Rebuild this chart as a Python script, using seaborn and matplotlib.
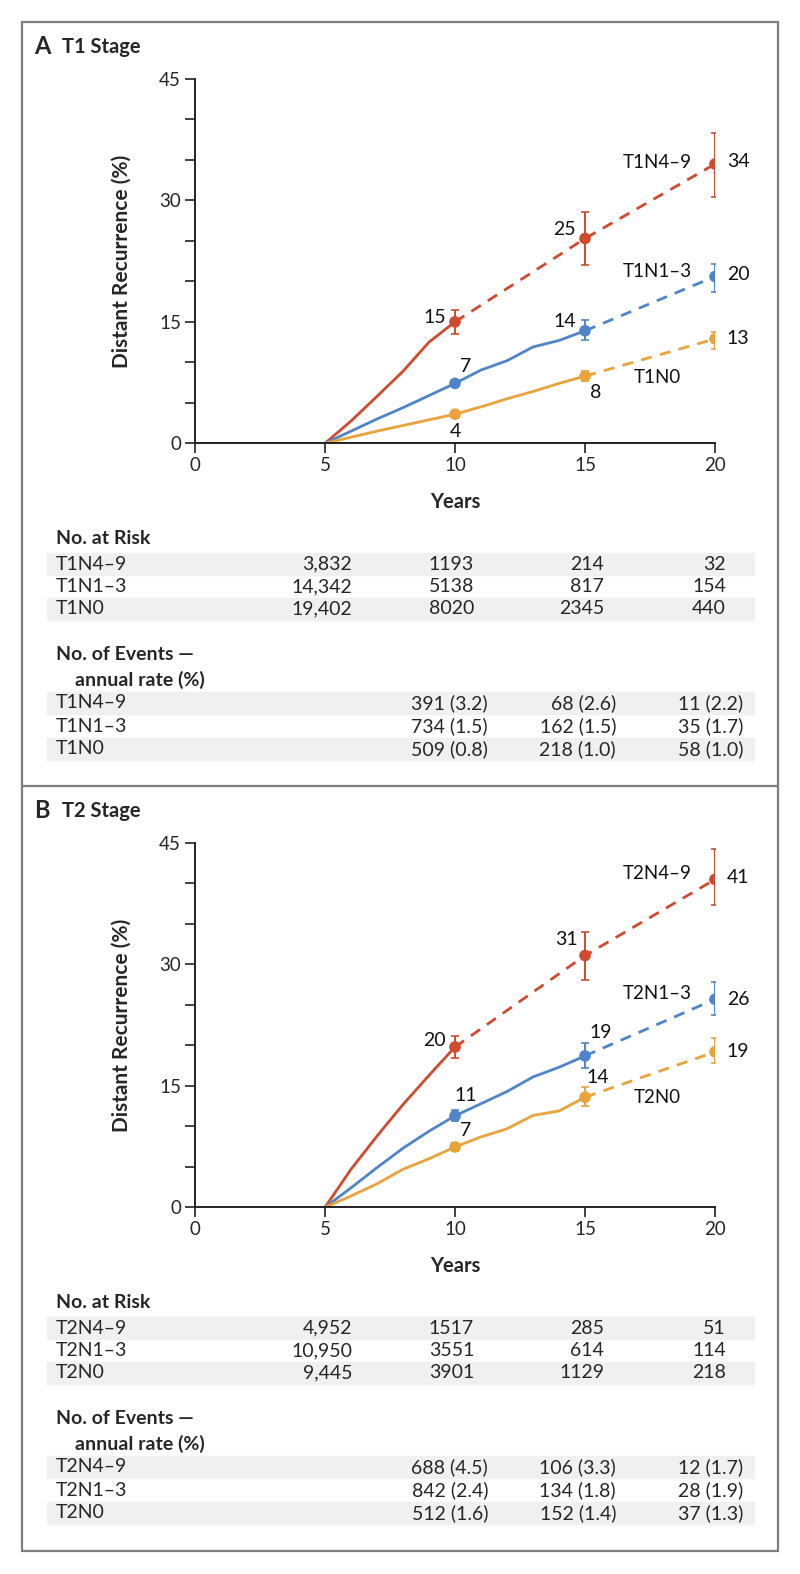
import pandas as pd
import seaborn as sns
import matplotlib.pyplot as plt
from matplotlib.patches import Rectangle
from matplotlib.lines import Line2D

# ---- data ----
obs_years_short = [5, 6, 7, 8, 9, 10]
obs_years_long = [5, 6, 7, 8, 9, 10, 11, 12, 13, 14, 15]
est_years = [10, 15, 20]

# panel A, T1 stage
a_n49_obs = [0, 2.75, 5.8, 8.9, 12.5, 15.0]
a_n49_proj = [15.0, 25.3, 34.5]
a_n13_obs = [0, 1.5, 3.0, 4.4, 5.9, 7.4, 9.05, 10.2, 11.9, 12.7, 13.9]
a_n13_proj = [13.9, 20.6]
a_n0_obs = [0, 0.75, 1.5, 2.2, 2.9, 3.6, 4.5, 5.5, 6.4, 7.4, 8.3]
a_n0_proj = [8.3, 12.9]
a_n49_est = [15.0, 25.3, 34.5]
a_n49_lo = [13.5, 22.0, 30.4]
a_n49_hi = [16.5, 28.6, 38.3]
a_n13_est = [7.4, 13.9, 20.6]
a_n13_lo = [7.1, 12.7, 18.7]
a_n13_hi = [7.7, 15.2, 22.1]
a_n0_est = [3.6, 8.3, 12.9]
a_n0_lo = [3.4, 7.7, 11.7]
a_n0_hi = [3.8, 8.9, 13.8]

# panel B, T2 stage
b_n49_obs = [0, 4.7, 8.8, 12.7, 16.3, 19.8]
b_n49_proj = [19.8, 31.1, 40.5]
b_n13_obs = [0, 2.4, 4.9, 7.3, 9.4, 11.3, 12.8, 14.3, 16.1, 17.3, 18.7]
b_n13_proj = [18.7, 25.7]
b_n0_obs = [0, 1.4, 2.9, 4.7, 6.0, 7.45, 8.7, 9.7, 11.35, 11.9, 13.6]
b_n0_proj = [13.6, 19.2]
b_n49_est = [19.8, 31.1, 40.5]
b_n49_lo = [18.4, 28.1, 37.3]
b_n49_hi = [21.2, 34.0, 44.2]
b_n13_est = [11.3, 18.7, 25.7]
b_n13_lo = [10.6, 17.2, 23.7]
b_n13_hi = [12.0, 20.3, 27.8]
b_n0_est = [7.45, 13.6, 19.2]
b_n0_lo = [7.0, 12.5, 17.8]
b_n0_hi = [7.9, 14.8, 20.9]

a_groups = ["T1N4–9", "T1N1–3", "T1N0"]
b_groups = ["T2N4–9", "T2N1–3", "T2N0"]
a_labels = [["15", "25", "34"], ["7", "14", "20"], ["4", "8", "13"]]
b_labels = [["20", "31", "41"], ["11", "19", "26"], ["7", "14", "19"]]

a_risk = [["3,832", "1193", "214", "32"],
          ["14,342", "5138", "817", "154"],
          ["19,402", "8020", "2345", "440"]]
a_events = [["391 (3.2)", "68 (2.6)", "11 (2.2)"],
            ["734 (1.5)", "162 (1.5)", "35 (1.7)"],
            ["509 (0.8)", "218 (1.0)", "58 (1.0)"]]
b_risk = [["4,952", "1517", "285", "51"],
          ["10,950", "3551", "614", "114"],
          ["9,445", "3901", "1129", "218"]]
b_events = [["688 (4.5)", "106 (3.3)", "12 (1.7)"],
            ["842 (2.4)", "134 (1.8)", "28 (1.9)"],
            ["512 (1.6)", "152 (1.4)", "37 (1.3)"]]

colors = ["#CF4A2E", "#4F85C8", "#EAA23A"]

sns.set_style("white")
plt.rcParams['font.family'] = ['Lato', 'DejaVu Sans']

W, H = 800, 1574
fig = plt.figure(figsize=(W / 100, H / 100), dpi=100)


def fx(px):
    return px / W


def fy(py):
    return 1 - py / H


def build_frame(groups, n49_obs, n49_proj, n13_obs, n13_proj, n0_obs, n0_proj):
    rows = []
    for x, y in zip(obs_years_short, n49_obs):
        rows.append((groups[0], "obs", x, y))
    for x, y in zip(est_years, n49_proj):
        rows.append((groups[0], "proj", x, y))
    for g, obs, proj in [(groups[1], n13_obs, n13_proj), (groups[2], n0_obs, n0_proj)]:
        for x, y in zip(obs_years_long, obs):
            rows.append((g, "obs", x, y))
        for x, y in zip(est_years[1:], proj):
            rows.append((g, "proj", x, y))
    return pd.DataFrame(rows, columns=["group", "segment", "year", "pct"])


def draw_panel(off, letter, title, groups, df, est, lo, hi, labels,
               label_pos, name_pos, risk, events):
    ax = fig.add_axes([fx(195), fy(443.3 + off), fx(520), 364.3 / H])
    sns.lineplot(data=df, x="year", y="pct", hue="group", style="segment",
                 palette=dict(zip(groups, colors)),
                 dashes={"obs": "", "proj": (4, 3)},
                 estimator=None, sort=True, lw=2, legend=False, ax=ax)
    for i in range(3):
        e = pd.DataFrame({"year": est_years, "pct": est[i]})
        ax.errorbar(est_years, est[i],
                    yerr=[[a - b for a, b in zip(est[i], lo[i])],
                          [b - a for a, b in zip(est[i], hi[i])]],
                    fmt="none", ecolor=colors[i], elinewidth=1.4,
                    capsize=3, capthick=1.2, zorder=4)
        sns.scatterplot(data=e, x="year", y="pct", color=colors[i], s=70,
                        edgecolor="none", zorder=5, ax=ax)
        for j, t in enumerate(labels[i]):
            px, py, ha = label_pos[i][j]
            ax.text(px, py, t, fontsize=14, ha=ha, va="center", color="#111111")
        nx, ny, nha = name_pos[i]
        ax.text(nx, ny, groups[i], fontsize=13.5, ha=nha, va="center", color="#111111")

    ax.set_xlim(0, 20)
    ax.set_ylim(0, 45)
    ax.set_xticks([0, 5, 10, 15, 20])
    ax.set_yticks([0, 15, 30, 45])
    ax.set_yticks([5, 10, 20, 25, 35, 40], minor=True)
    ax.tick_params(axis="both", which="both", direction="out", length=7,
                   width=1.2, color="#222222", labelsize=13.5, left=True, bottom=True)
    ax.tick_params(axis="both", which="major", pad=3)
    sns.despine(ax=ax)
    for s in ["left", "bottom"]:
        ax.spines[s].set_linewidth(1.4)
        ax.spines[s].set_color("#222222")
    ax.margins(0)
    for sp in ax.spines.values():
        sp.set_clip_on(False)
    ax.set_xlabel("Years", fontsize=14.5, fontweight="bold")
    ax.set_ylabel("Distant Recurrence (%)", fontsize=15, fontweight="bold")
    ax.xaxis.set_label_coords(0.5, -0.135)
    ax.yaxis.set_label_coords(-0.121, 0.5)

    # panel title
    fig.text(fx(34), fy(47 + off), letter, fontsize=17, fontweight="bold", va="center")
    fig.text(fx(62), fy(47 + off), title, fontsize=14.5, fontweight="bold", va="center")

    # tables
    stripe = "#F0F0F0"
    fig.text(fx(56), fy(539 + off), "No. at Risk", fontsize=14, fontweight="bold", va="center")
    risk_rows = [564, 586.5, 609]
    risk_cols = [352, 474, 604, 726]
    for r, yy in enumerate(risk_rows):
        if r != 1:
            fig.patches.append(Rectangle((fx(47), fy(yy + off + 11.3)), fx(707), 22.6 / H,
                                         transform=fig.transFigure, color=stripe, zorder=0))
        fig.text(fx(56), fy(yy + off), groups[r], fontsize=14, va="center")
        for c, xx in enumerate(risk_cols):
            fig.text(fx(xx), fy(yy + off), risk[r][c], fontsize=14, va="center", ha="right")

    fig.text(fx(56), fy(655 + off), "No. of Events —", fontsize=14, fontweight="bold", va="center")
    fig.text(fx(75), fy(680 + off), "annual rate (%)", fontsize=14, fontweight="bold", va="center")
    ev_rows = [703, 726, 749]
    ev_cols = [488, 616, 743]
    for r, yy in enumerate(ev_rows):
        if r != 1:
            fig.patches.append(Rectangle((fx(47), fy(yy + off + 11.3)), fx(707), 22.6 / H,
                                         transform=fig.transFigure, color=stripe, zorder=0))
        fig.text(fx(56), fy(yy + off), groups[r], fontsize=14, va="center")
        for c, xx in enumerate(ev_cols):
            fig.text(fx(xx), fy(yy + off), events[r][c], fontsize=14, va="center", ha="right")
    return ax


df_a = build_frame(a_groups, a_n49_obs, a_n49_proj, a_n13_obs, a_n13_proj, a_n0_obs, a_n0_proj)
df_b = build_frame(b_groups, b_n49_obs, b_n49_proj, b_n13_obs, b_n13_proj, b_n0_obs, b_n0_proj)

a_label_pos = [[(9.65, 15.6, "right"), (14.65, 26.4, "right"), (20.45, 34.8, "left")],
               [(10.4, 9.5, "center"), (14.65, 15.0, "right"), (20.45, 20.9, "left")],
               [(10.0, 1.4, "center"), (15.4, 6.3, "center"), (20.45, 13.0, "left")]]
a_name_pos = [(19.1, 34.7, "right"), (19.1, 21.2, "right"), (17.78, 8.1, "center")]
b_label_pos = [[(9.64, 20.6, "right"), (14.72, 33.1, "right"), (20.45, 40.8, "left")],
               [(10.4, 13.8, "center"), (15.6, 21.6, "center"), (20.45, 25.7, "left")],
               [(10.4, 9.5, "center"), (15.5, 16.0, "center"), (20.45, 19.3, "left")]]
b_name_pos = [(19.1, 41.2, "right"), (19.1, 26.35, "right"), (17.78, 13.56, "center")]

draw_panel(0, "A", "T1 Stage", a_groups, df_a,
           [a_n49_est, a_n13_est, a_n0_est], [a_n49_lo, a_n13_lo, a_n0_lo],
           [a_n49_hi, a_n13_hi, a_n0_hi], a_labels, a_label_pos, a_name_pos,
           a_risk, a_events)
draw_panel(764, "B", "T2 Stage", b_groups, df_b,
           [b_n49_est, b_n13_est, b_n0_est], [b_n49_lo, b_n13_lo, b_n0_lo],
           [b_n49_hi, b_n13_hi, b_n0_hi], b_labels, b_label_pos, b_name_pos,
           b_risk, b_events)

# frame around both panels
edge = "#7F7F7F"
fig.patches.append(Rectangle((fx(21.7), fy(1551)), fx(778 - 21.7), (1551 - 21.7) / H,
                             transform=fig.transFigure, fill=False, edgecolor=edge, lw=1.6))
fig.lines.append(Line2D([fx(21.7), fx(778)], [fy(785.7), fy(785.7)],
                        transform=fig.transFigure, color=edge, lw=1.6))

plt.savefig("out.png", dpi=100)
